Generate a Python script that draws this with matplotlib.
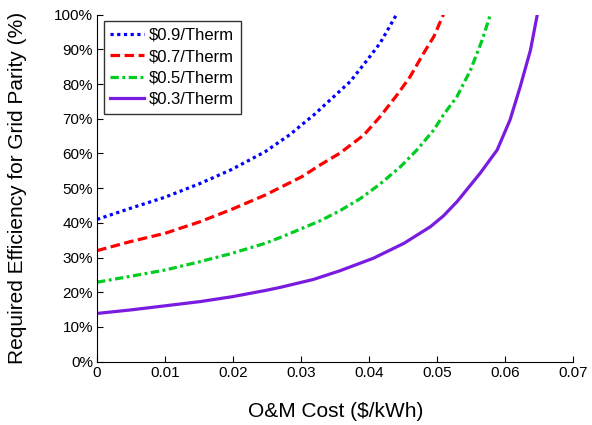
import numpy as np
import matplotlib
matplotlib.use('Agg')
import matplotlib.pyplot as plt

plt.rcParams['font.family'] = ['Liberation Sans', 'DejaVu Sans']

# values (O&M cost in $/kWh, efficiency in %)
x_09 = [0, 0.0049, 0.0100, 0.0152, 0.0198, 0.0247, 0.0284, 0.0301, 0.0318, 0.0348, 0.0372,
        0.0397, 0.0416, 0.0440]
y_09 = [41.0, 44.2, 47.4, 51.4, 55.4, 60.5, 65.5, 68.3, 71.0, 76.4, 80.7,
        86.9, 91.8, 100.0]

x_07 = [0, 0.0049, 0.0100, 0.0151, 0.0198, 0.0247, 0.0301, 0.0328, 0.0357, 0.0392, 0.0416,
        0.0441, 0.0460, 0.0480, 0.0495, 0.0509]
y_07 = [32.0, 34.6, 37.0, 40.3, 43.9, 48.0, 53.3, 56.7, 60.1, 65.3, 70.6,
        76.9, 82.1, 88.9, 93.7, 100.0]

x_05 = [0, 0.0049, 0.0100, 0.0151, 0.0198, 0.0247, 0.0272, 0.0328, 0.0357, 0.0387, 0.0416, 0.0446,
        0.0470, 0.0495, 0.0509, 0.0529, 0.0549, 0.0566, 0.0578]
y_05 = [22.9, 24.6, 26.4, 28.8, 31.2, 34.1, 36.0, 40.6, 43.5, 47.0, 51.2, 56.2,
        61.0, 66.8, 71.1, 76.4, 84.1, 92.7, 100.0]

x_03 = [0, 0.0049, 0.0100, 0.0151, 0.0198, 0.0247, 0.0269, 0.0318, 0.0357, 0.0406, 0.0451,
        0.0490, 0.0509, 0.0529, 0.0563, 0.0588, 0.0607, 0.0622, 0.0637, 0.0647]
y_03 = [13.9, 14.9, 16.1, 17.3, 18.7, 20.5, 21.4, 23.7, 26.2, 29.8, 34.1,
        38.9, 42.0, 46.1, 54.3, 61.0, 69.7, 79.3, 89.8, 100.0]

labels = [r'\$0.9/Therm', r'\$0.7/Therm', r'\$0.5/Therm', r'\$0.3/Therm']
xticks = [0, 0.01, 0.02, 0.03, 0.04, 0.05, 0.06, 0.07]
xtick_labels = ['0', '0.01', '0.02', '0.03', '0.04', '0.05', '0.06', '0.07']
yticks = np.arange(0, 101, 10)

fig = plt.figure(figsize=(5.92, 4.25), dpi=100)
ax = fig.add_axes([0.164, 0.149, 0.8045, 0.8166])

lw = 2.3
ax.plot(x_09, y_09, color='#0000ff', lw=lw, linestyle=(0, (1, 1.1)), label=labels[0])
ax.plot(x_07, y_07, color='#ff0000', lw=lw, linestyle=(0, (3, 1.4)), label=labels[1])
ax.plot(x_05, y_05, color='#00cc22', lw=lw, linestyle=(0, (2.6, 1.1, 0.9, 1.1)), label=labels[2])
ax.plot(x_03, y_03, color='#7a1be0', lw=lw, linestyle='-', label=labels[3])

ax.set_xlim(0, 0.07)
ax.set_ylim(0, 100)
ax.set_xticks(xticks)
ax.set_xticklabels(xtick_labels)
ax.set_yticks(yticks)
ax.set_yticklabels(['%d%%' % v for v in yticks])
ax.tick_params(direction='in', labelsize=11, length=4, width=0.8, pad=3)
ax.spines['top'].set_visible(False)
ax.spines['right'].set_visible(False)

ax.set_xlabel('O&M Cost ($/kWh)', fontsize=15)
ax.set_ylabel('Required Efficiency for Grid Parity (%)', fontsize=15)
ax.xaxis.set_label_coords(0.5, -0.116)
ax.yaxis.set_label_coords(-0.147, 0.5)

leg = ax.legend(loc='upper left', fontsize=12, frameon=True, fancybox=False,
                edgecolor='black', handlelength=2.0, handletextpad=0.3,
                borderpad=0.4, labelspacing=0.38, borderaxespad=0.4)
leg.get_frame().set_linewidth(1.0)

fig.savefig('out.png', dpi=100)
